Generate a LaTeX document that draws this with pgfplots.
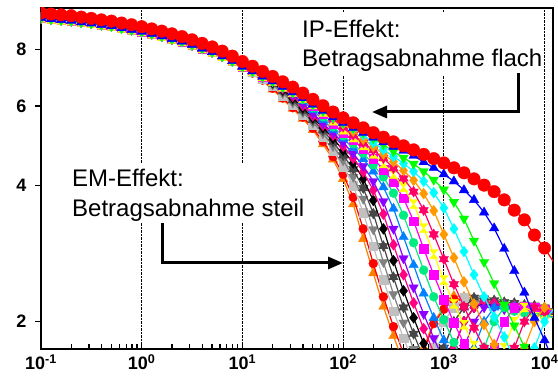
\documentclass[border=0pt]{standalone}
\usepackage{fontspec}
\setmainfont{Liberation Sans}
\usepackage{pgfplots}
\usepackage{pgfplotstable}
\pgfplotsset{compat=1.18}
\usetikzlibrary{arrows.meta}
\pgfdeclareplotmark{hourglass}{%
 \pgfpathmoveto{\pgfqpoint{-\pgfplotmarksize}{\pgfplotmarksize}}%
 \pgfpathlineto{\pgfqpoint{\pgfplotmarksize}{\pgfplotmarksize}}%
 \pgfpathlineto{\pgfqpoint{-\pgfplotmarksize}{-\pgfplotmarksize}}%
 \pgfpathlineto{\pgfqpoint{\pgfplotmarksize}{-\pgfplotmarksize}}%
 \pgfpathclose
 \pgfusepathqfillstroke}
\pgfdeclareplotmark{star6}{%
 \pgfpathmoveto{\pgfqpointpolar{90}{\pgfplotmarksize}}%
 \pgfpathlineto{\pgfqpointpolar{210}{\pgfplotmarksize}}%
 \pgfpathlineto{\pgfqpointpolar{330}{\pgfplotmarksize}}%
 \pgfpathclose
 \pgfpathmoveto{\pgfqpointpolar{270}{\pgfplotmarksize}}%
 \pgfpathlineto{\pgfqpointpolar{30}{\pgfplotmarksize}}%
 \pgfpathlineto{\pgfqpointpolar{150}{\pgfplotmarksize}}%
 \pgfpathclose
 \pgfusepathqfillstroke}
\definecolor{orangeT}{RGB}{255,128,0}
\definecolor{redS}{RGB}{255,0,0}
\definecolor{silverS}{RGB}{192,192,192}
\definecolor{grayS}{RGB}{128,128,128}
\definecolor{dgrayS}{RGB}{70,70,70}
\definecolor{dpinkS}{RGB}{255,0,128}
\definecolor{purpleS}{RGB}{140,0,255}
\definecolor{dodgerS}{RGB}{0,128,255}
\definecolor{sgreenS}{RGB}{0,235,130}
\definecolor{magentaS}{RGB}{255,0,255}
\definecolor{yellowS}{RGB}{255,255,0}
\definecolor{pinkstarS}{RGB}{255,0,102}
\definecolor{orangeD}{RGB}{255,153,0}
\definecolor{cyanS}{RGB}{0,255,255}
\definecolor{greenS}{RGB}{0,255,0}
\definecolor{blueS}{RGB}{0,0,255}
\pgfplotstableread{
x E s1 s2 s3 s4 s5 s6 s7 s8 s9 s10 s11 s12 s13 s14 s15 s16 s17
0.1 9.64 9.40 9.40 9.40 9.40 9.40 9.40 9.40 9.40 9.40 9.40 9.40 9.40 9.40 9.40 9.40 9.40 9.40
0.1259 9.59 9.35 9.35 9.35 9.35 9.35 9.35 9.35 9.35 9.35 9.35 9.35 9.35 9.35 9.35 9.35 9.35 9.35
0.1585 9.55 9.31 9.31 9.31 9.31 9.31 9.31 9.31 9.31 9.31 9.31 9.31 9.31 9.31 9.31 9.31 9.31 9.31
0.1995 9.51 9.27 9.27 9.27 9.27 9.27 9.27 9.27 9.27 9.27 9.27 9.27 9.27 9.27 9.27 9.27 9.27 9.27
0.2512 9.44 9.20 9.20 9.20 9.20 9.20 9.20 9.20 9.20 9.20 9.20 9.20 9.20 9.20 9.20 9.20 9.20 9.20
0.3162 9.38 9.15 9.15 9.15 9.15 9.15 9.15 9.15 9.15 9.15 9.15 9.15 9.15 9.15 9.15 9.15 9.15 9.15
0.3981 9.31 9.08 9.08 9.08 9.08 9.08 9.08 9.08 9.08 9.08 9.08 9.08 9.08 9.08 9.08 9.08 9.08 9.08
0.5012 9.25 9.02 9.02 9.02 9.02 9.02 9.02 9.02 9.02 9.02 9.02 9.02 9.02 9.02 9.02 9.02 9.02 9.02
0.6310 9.16 8.93 8.93 8.93 8.93 8.93 8.93 8.93 8.93 8.93 8.93 8.93 8.93 8.93 8.93 8.93 8.93 8.93
0.7943 9.08 8.85 8.85 8.85 8.85 8.85 8.85 8.85 8.85 8.85 8.85 8.85 8.85 8.85 8.85 8.85 8.85 8.85
1 8.99 8.77 8.77 8.77 8.77 8.77 8.77 8.77 8.77 8.77 8.77 8.77 8.77 8.77 8.77 8.77 8.77 8.77
1.259 8.89 8.67 8.67 8.67 8.67 8.67 8.67 8.67 8.67 8.67 8.67 8.67 8.67 8.67 8.67 8.67 8.67 8.67
1.585 8.79 8.57 8.57 8.57 8.57 8.57 8.57 8.57 8.57 8.57 8.57 8.57 8.57 8.57 8.57 8.57 8.57 8.57
1.995 8.67 8.45 8.45 8.45 8.45 8.45 8.45 8.45 8.45 8.45 8.45 8.45 8.45 8.45 8.45 8.45 8.45 8.45
2.512 8.55 8.34 8.34 8.34 8.34 8.34 8.34 8.34 8.34 8.34 8.34 8.34 8.34 8.34 8.34 8.34 8.34 8.34
3.162 8.41 8.20 8.20 8.20 8.20 8.20 8.20 8.20 8.20 8.20 8.20 8.20 8.20 8.20 8.20 8.20 8.20 8.20
3.981 8.26 8.05 8.05 8.05 8.05 8.05 8.05 8.05 8.05 8.05 8.05 8.05 8.05 8.05 8.05 8.05 8.05 8.05
5.012 8.11 7.91 7.91 7.91 7.91 7.91 7.91 7.91 7.91 7.91 7.91 7.91 7.91 7.91 7.91 7.91 7.91 7.91
6.310 7.94 7.74 7.74 7.74 7.74 7.74 7.74 7.74 7.74 7.74 7.74 7.74 7.74 7.74 7.74 7.74 7.74 7.74
7.943 7.74 7.55 7.55 7.55 7.55 7.55 7.55 7.55 7.55 7.55 7.55 7.55 7.55 7.55 7.55 7.55 7.55 7.55
10 7.53 7.33 7.34 7.34 7.34 7.34 7.34 7.34 7.34 7.34 7.34 7.34 7.34 7.34 7.34 7.34 7.34 7.34
12.59 7.35 7.08 7.10 7.14 7.17 7.17 7.17 7.17 7.17 7.17 7.17 7.17 7.17 7.17 7.17 7.17 7.17 7.17
15.85 7.16 6.82 6.85 6.90 6.93 6.97 6.98 6.98 6.98 6.98 6.98 6.98 6.98 6.98 6.98 6.98 6.98 6.98
19.95 6.98 6.53 6.57 6.64 6.69 6.73 6.77 6.80 6.81 6.81 6.81 6.81 6.81 6.81 6.81 6.81 6.81 6.81
25.12 6.79 6.21 6.25 6.33 6.41 6.47 6.52 6.56 6.60 6.62 6.62 6.62 6.62 6.62 6.62 6.62 6.62 6.62
31.62 6.61 5.92 5.95 6.03 6.11 6.18 6.25 6.31 6.36 6.41 6.44 6.44 6.44 6.44 6.44 6.44 6.44 6.44
39.81 6.41 5.62 5.67 5.74 5.81 5.87 5.95 6.02 6.08 6.16 6.21 6.25 6.25 6.25 6.25 6.25 6.25 6.25
50.12 6.21 5.31 5.36 5.44 5.52 5.59 5.65 5.71 5.78 5.88 5.95 6.01 6.05 6.05 6.05 6.05 6.05 6.05
63.10 6.01 4.94 5.01 5.13 5.22 5.30 5.38 5.44 5.49 5.59 5.68 5.76 5.82 5.86 5.86 5.86 5.86 5.86
79.43 5.82 4.57 4.64 4.77 4.89 5.00 5.09 5.17 5.23 5.32 5.40 5.49 5.57 5.63 5.67 5.67 5.67 5.67
100 5.65 4.14 4.24 4.41 4.55 4.67 4.79 4.89 4.98 5.08 5.16 5.24 5.32 5.40 5.48 5.51 5.51 5.51
125.9 5.51 3.64 3.77 4.00 4.18 4.35 4.49 4.60 4.71 4.85 4.95 5.04 5.11 5.18 5.28 5.36 5.37 5.37
158.5 5.37 3.05 3.21 3.49 3.74 3.95 4.14 4.29 4.42 4.58 4.72 4.83 4.91 4.98 5.07 5.18 5.24 5.24
199.5 5.24 2.56 2.69 2.94 3.20 3.47 3.71 3.91 4.09 4.30 4.45 4.59 4.70 4.79 4.88 4.98 5.09 5.11
251.2 5.12 2.16 2.27 2.48 2.71 2.94 3.21 3.46 3.69 3.97 4.18 4.34 4.48 4.60 4.70 4.81 4.93 4.99
316.2 5.00 1.86 1.95 2.11 2.30 2.51 2.73 2.96 3.21 3.56 3.85 4.07 4.24 4.37 4.52 4.64 4.76 4.88
398.1 4.90 1.62 1.70 1.84 1.99 2.15 2.34 2.54 2.76 3.08 3.44 3.75 3.97 4.15 4.32 4.48 4.61 4.78
501.2 4.80 1.50 1.52 1.62 1.74 1.88 2.04 2.20 2.38 2.67 2.99 3.34 3.64 3.88 4.11 4.30 4.47 4.66
631.0 4.69 1.75 1.72 1.50 1.54 1.66 1.79 1.93 2.08 2.31 2.60 2.90 3.22 3.53 3.84 4.09 4.30 4.51
794.3 4.59 2.00 1.98 1.75 1.50 1.50 1.60 1.71 1.84 2.04 2.27 2.54 2.82 3.12 3.52 3.86 4.12 4.38
1000 4.49 2.15 2.13 2.00 1.75 1.75 1.50 1.50 1.64 1.82 2.02 2.24 2.47 2.75 3.12 3.57 3.92 4.24
1259 4.38 2.28 2.24 2.15 2.00 2.00 1.75 1.75 1.50 1.63 1.80 1.99 2.19 2.42 2.77 3.21 3.68 4.09
1585 4.27 2.27 2.23 2.26 2.15 2.15 2.00 2.00 1.75 1.50 1.62 1.79 1.97 2.16 2.45 2.86 3.38 3.91
1995 4.14 2.25 2.21 2.24 2.19 2.26 2.15 2.15 2.00 1.75 1.50 1.61 1.77 1.94 2.19 2.54 3.02 3.72
2512 4.01 2.24 2.20 2.23 2.18 2.25 2.19 2.22 2.15 2.00 1.75 1.50 1.59 1.75 1.97 2.27 2.71 3.49
3162 3.88 2.22 2.18 2.21 2.16 2.23 2.17 2.20 2.15 2.15 2.00 1.75 1.50 1.58 1.78 2.05 2.43 3.22
3981 3.72 2.20 2.16 2.19 2.14 2.21 2.15 2.18 2.13 2.17 2.15 2.00 1.75 1.50 1.60 1.85 2.18 2.90
5012 3.53 2.19 2.15 2.18 2.13 2.20 2.14 2.17 2.12 2.16 2.11 2.15 2.00 1.75 1.50 1.65 1.96 2.59
6310 3.36 2.17 2.13 2.16 2.11 2.18 2.12 2.15 2.10 2.14 2.09 2.16 2.15 2.00 1.75 1.50 1.76 2.32
7943 3.11 2.16 2.12 2.15 2.10 2.17 2.11 2.14 2.09 2.13 2.08 2.15 2.10 2.15 2.00 1.75 1.55 2.04
10000 2.91 2.14 2.10 2.13 2.08 2.15 2.09 2.12 2.07 2.11 2.06 2.13 2.08 2.10 2.15 2.00 1.50 1.82
12589 2.69 2.12 2.08 2.11 2.06 2.13 2.07 2.10 2.05 2.09 2.04 2.11 2.06 2.08 2.12 2.15 1.75 1.61
}\data
\begin{document}
\begin{tikzpicture}
\begin{axis}[
  at={(0pt,0pt)}, anchor=south west,
  scale only axis, width=512pt, height=341pt,
  xmode=log, ymode=log,
  xmin=0.1, xmax=12140, ymin=1.74, ymax=9.89,
  xtick={0.1,1,10,100,1000,10000},
  xticklabels={10\textsuperscript{-1},10\textsuperscript{0},10\textsuperscript{1},10\textsuperscript{2},10\textsuperscript{3},10\textsuperscript{4}},
  ytick={2,4,6,8}, yticklabels={2,4,6,8},
  yminorticks=false,
  tick pos=left,
  tick align=inside,
  major tick length=6pt, minor tick length=5pt,
  tick style={black, line width=1.2pt},
  y tick style={xshift=-6pt},
  axis line style={line width=2.5pt},
  xmajorgrids,
  major grid style={densely dotted, black, line width=0.8pt},
  ticklabel style={font=\bfseries\fontsize{18}{18}\selectfont},
  yticklabel style={xshift=-11pt},
  xticklabel style={yshift=-2pt},
  clip marker paths=true,
  every axis plot/.append style={line width=1.2pt},
  tup/.style={mark=triangle*, mark size=5.5pt, mark options={line width=0.3pt}},
  tdown/.style={mark=triangle*, mark size=5.5pt, mark options={rotate=180, line width=0.3pt}},
  circ/.style={mark=*, mark size=4.5pt, mark options={line width=0.3pt}},
  sq/.style={mark=square*, mark size=4.3pt, mark options={line width=0.3pt}},
  dia/.style={mark=diamond*, mark size=5.5pt, mark options={line width=0.3pt}},
  hg/.style={mark=hourglass, mark size=4.5pt, mark options={line width=0.3pt}},
  st/.style={mark=star6, mark size=5.5pt, mark options={line width=0.3pt}},
]
\addplot[orangeT, tup] table[x=x,y=s1]{\data};
\addplot[redS, circ] table[x=x,y=s2]{\data};
\addplot[silverS, sq] table[x=x,y=s3]{\data};
\addplot[grayS, tdown] table[x=x,y=s4]{\data};
\addplot[dgrayS, st] table[x=x,y=s5]{\data};
\addplot[black, dia] table[x=x,y=s6]{\data};
\addplot[dpinkS, dia] table[x=x,y=s7]{\data};
\addplot[purpleS, tdown] table[x=x,y=s8]{\data};
\addplot[dodgerS, tup] table[x=x,y=s9]{\data};
\addplot[sgreenS, circ] table[x=x,y=s10]{\data};
\addplot[magentaS, sq] table[x=x,y=s11]{\data};
\addplot[yellowS, hg] table[x=x,y=s12]{\data};
\addplot[pinkstarS, st] table[x=x,y=s13]{\data};
\addplot[orangeD, dia] table[x=x,y=s14]{\data};
\addplot[cyanS, dia] table[x=x,y=s15]{\data};
\addplot[greenS, tdown] table[x=x,y=s16]{\data};
\addplot[blueS, tup] table[x=x,y=s17]{\data};
\addplot[redS, mark=*, mark size=6.3pt, mark options={line width=0.3pt}] table[x=x,y=E]{\data};
\end{axis}
\fill[white] (257pt,273pt) rectangle (501pt,337pt);
\node[anchor=base west, inner sep=0pt, font=\fontsize{24}{28}\selectfont] at (261pt,311pt) {IP-Effekt:};
\node[anchor=base west, inner sep=0pt, font=\fontsize{24}{28}\selectfont] at (261pt,282pt) {Betragsabnahme flach};
\draw[line width=3pt, -{Triangle[length=15pt,width=12pt]}] (477pt,276pt) -- (477pt,237pt) -- (331pt,237pt);
\fill[white] (27pt,126pt) rectangle (265pt,186pt);
\node[anchor=base west, inner sep=0pt, font=\fontsize{24}{28}\selectfont] at (31pt,162pt) {EM-Effekt:};
\node[anchor=base west, inner sep=0pt, font=\fontsize{24}{28}\selectfont] at (31pt,132pt) {Betragsabnahme steil};
\draw[line width=3pt, -{Triangle[length=15pt,width=12pt]}] (121pt,126pt) -- (121pt,86pt) -- (302pt,86pt);
\pgfresetboundingbox
\path (-41pt,-38pt) rectangle (517pt,349pt);
\end{tikzpicture}
\end{document}
